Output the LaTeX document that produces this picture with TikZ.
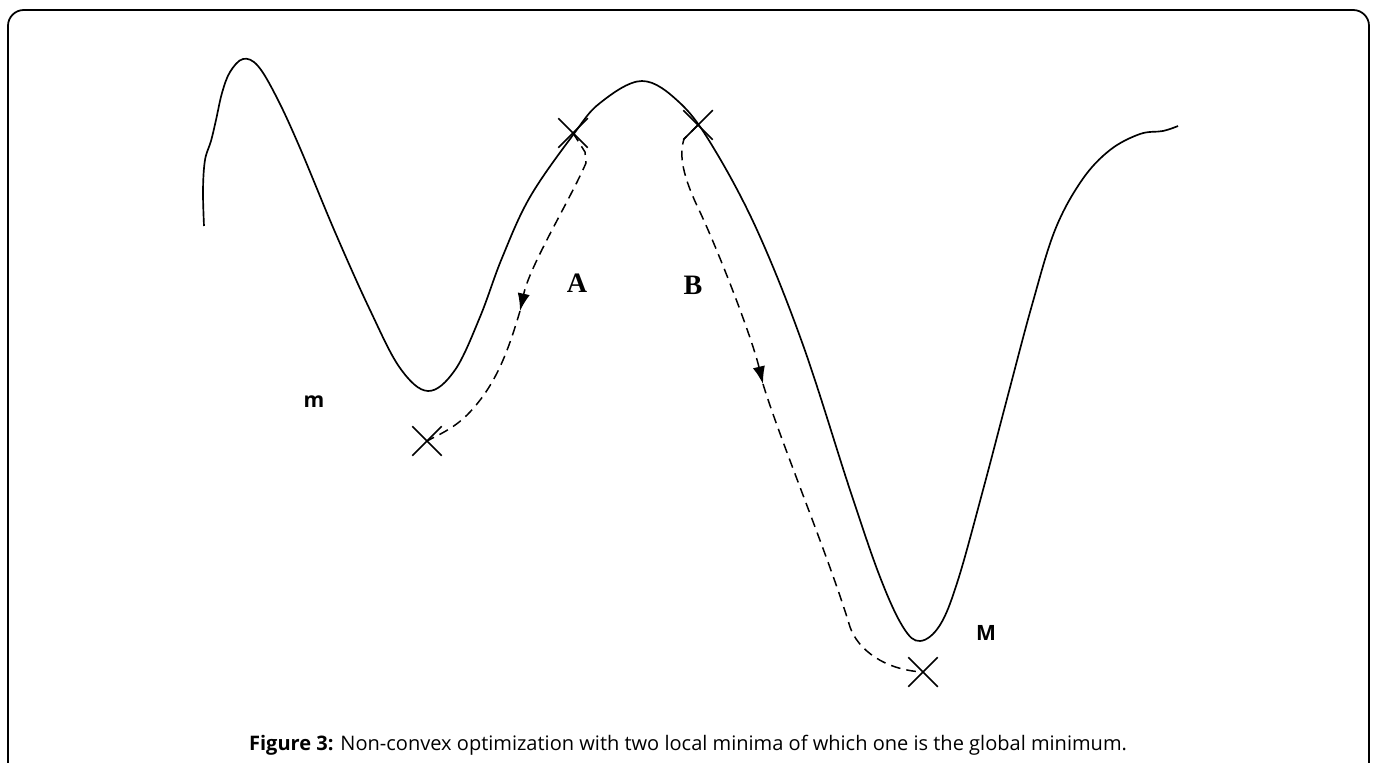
\documentclass[tikz,border=0pt]{standalone}
\usepackage{fontspec}
\setmainfont{Open Sans}
\newfontfamily\timesfont{Liberation Serif}
\usepackage{tikz}
\usetikzlibrary{shapes.misc,arrows.meta}

\tikzset{
    curve/.style={black, line width=0.95pt},
    route/.style={black, line width=0.85pt, dash pattern=on 5.5pt off 3.5pt},
    xmark/.style={cross out, draw, line width=0.85pt, minimum width=0.56cm, minimum height=0.56cm, inner sep=0pt},
    letter/.style={font=\timesfont\bfseries\fontsize{16}{18}\selectfont},
    tag/.style={font=\bfseries\fontsize{12}{14}\selectfont},
    tip/.style={-{Latex[length=10pt,width=7pt]}}
}

\begin{document}
\begin{tikzpicture}[x=0.02cm, y=-0.02cm]
    \useasboundingbox (0,0) rectangle (1375,763);
    % ===== Frame (open at the bottom) =====
    \draw[line width=1pt, rounded corners=9] (8,775) -- (8,10) -- (1369,10) -- (1369,775);

    % ===== Cost surface =====
    \draw[curve] plot[smooth, tension=0.6] coordinates {
        (204,226) (203,190) (205,160) (211,141) (216,120) (222,93) (230,72) (243,59)
        (258,66) (277,98) (300,148) (335,232) (370,310) (400,368) (428,391) (455,370)
        (480,317) (502,258) (530,197) (573,135) (600,103) (642,81) (680,103) (713,147)
        (757,230) (803,345) (850,490) (880,577) (903,627) (920,641) (940,625)
        (958,580) (983,490) (1008,395) (1032,305) (1055,230) (1082,180) (1110,150)
        (1140,134) (1163,131) (1178,126)};

    % ===== Start and end points =====
    \node[xmark] (xA0) at (573,133) {};
    \node[xmark] (xA1) at (427,441) {};
    \node[xmark] (xB0) at (698,125) {};
    \node[xmark] (xB1) at (923,672) {};
    \coordinate (tipA) at (520,311);
    \coordinate (tipB) at (763,384);

    % ===== Path A: ends in the local minimum =====
    \draw[route, tip] (xA0.center) -- (585,152) -- (586,163)
        .. controls (570,200) and (530,265) .. (tipA);
    \draw[route] (tipA) .. controls (507,355) and (495,385) .. (470,412)
        .. controls (455,428) and (440,434) .. (xA1.center);

    % ===== Path B: ends in the global minimum =====
    \draw[route, tip] (xB0.center) -- (684,139)
        .. controls (679,155) and (682,175) .. (700,212)
        .. controls (720,255) and (752,338) .. (tipB);
    \draw[route] (tipB) .. controls (780,440) and (830,560) .. (850,627)
        .. controls (858,650) and (885,670) .. (xB1.center);

    % ===== Labels =====
    \node[letter] (lblA) at (577,283) {A};
    \node[letter] (lblB) at (693,285) {B};
    \node[tag] (lblm) at (314,402) {m};
    \node[tag] (lblM) at (986,633) {M};

    % Caption
    \node[font=\fontsize{11.4}{13}\selectfont] (caption) at (688,745)
        {\textbf{Figure 3:} Non-convex optimization with two local minima of which one is the global minimum.};
\end{tikzpicture}
\end{document}
